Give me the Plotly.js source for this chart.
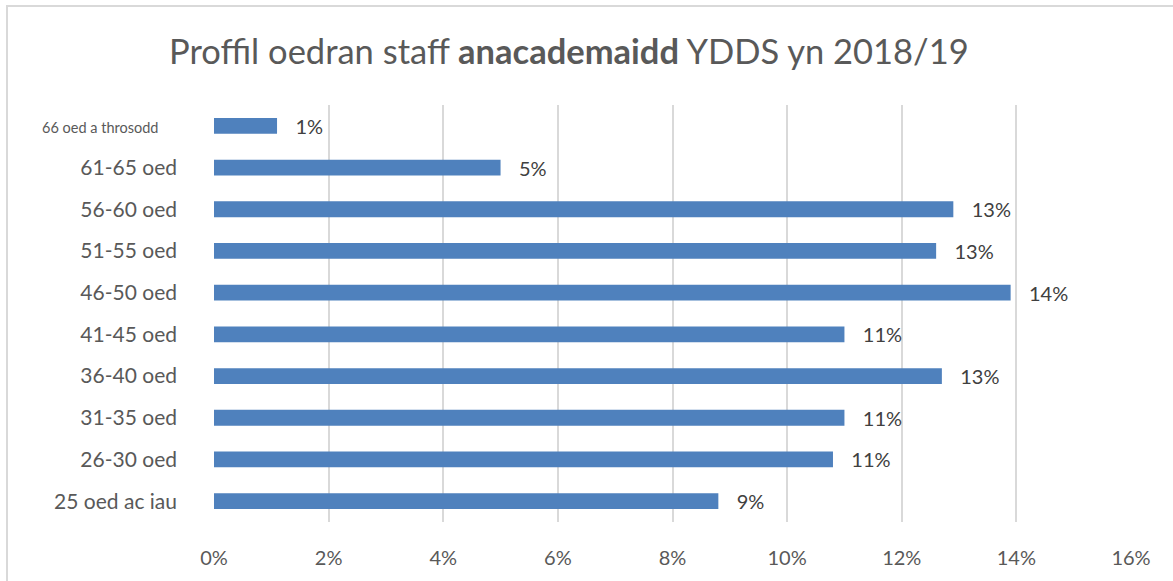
<!DOCTYPE html>
<html>
<head>
<meta charset="utf-8">
<script src="https://cdn.plot.ly/plotly-3.0.1.min.js"></script>
<style>
  html, body { margin: 0; padding: 0; background: #fff; }
  #frame { position: absolute; left: 6px; top: 5px; width: 1200px; height: 600px;
           border-left: 2px solid #d9d9d9; border-top: 2px solid #d9d9d9; pointer-events: none; }
  #chart { width: 1173px; height: 581px; }
</style>
</head>
<body>
<div id="chart"></div>
<div id="frame"></div>
<script>
// Categories bottom -> top
const categories = ["25 oed ac iau", "26-30 oed", "31-35 oed", "36-40 oed", "41-45 oed",
                    "46-50 oed", "51-55 oed", "56-60 oed", "61-65 oed", "66 oed a throsodd"];
// Share of staff (fraction)
const values = [0.088, 0.108, 0.110, 0.127, 0.110, 0.139, 0.126, 0.129, 0.050, 0.011];
const labels = ["9%", "11%", "11%", "13%", "11%", "14%", "13%", "13%", "5%", "1%"];
const tickVals = [0, 0.02, 0.04, 0.06, 0.08, 0.10, 0.12, 0.14, 0.16];
const tickText = ["0%", "2%", "4%", "6%", "8%", "10%", "12%", "14%", "16%"];

const NB = '\u00a0';
const catTicks = categories.map(c => c === "66 oed a throsodd"
  ? '<span style="font-size:14.5px">' + c + NB.repeat(5) + '</span>' : c);

const trace = {
  type: 'bar',
  orientation: 'h',
  x: values,
  y: categories,
  text: labels.map(t => NB.repeat(3) + t),
  textposition: 'outside',
  constraintext: 'none',
  cliponaxis: false,
  textfont: { family: 'Lato, "Open Sans", sans-serif', size: 20, color: '#404040' },
  marker: { color: '#4f81bd' },
  width: 0.38,
  hoverinfo: 'skip'
};

const layout = {
  width: 1173, height: 581,
  margin: { l: 214, r: 42, t: 105, b: 59 },
  paper_bgcolor: '#fff', plot_bgcolor: '#fff',
  font: { family: 'Lato, "Open Sans", sans-serif', color: '#595959' },
  title: {
    text: 'Proffil oedran staff <b>anacademaidd</b> YDDS yn 2018/19',
    font: { size: 34.5, color: '#595959', family: 'Lato, "Open Sans", sans-serif' },
    x: 0.485, xanchor: 'center', y: 0.91, yanchor: 'middle'
  },
  xaxis: {
    range: [0, 0.16],
    tickvals: tickVals, ticktext: tickText,
    showgrid: true, gridcolor: '#d9d9d9', gridwidth: 2,
    zeroline: true, zerolinecolor: '#ffffff', zerolinewidth: 2,
    showline: false, ticks: '',
    ticklabelstandoff: 22,
    tickfont: { size: 20, color: '#595959' },
    fixedrange: true
  },
  yaxis: {
    type: 'category',
    categoryorder: 'array', categoryarray: categories,
    tickvals: categories, ticktext: catTicks,
    showgrid: false, zeroline: false, showline: false, ticks: '',
    ticklabelstandoff: 36,
    tickfont: { size: 21, color: '#595959' },
    fixedrange: true
  },
  showlegend: false
};

Plotly.newPlot('chart', [trace], layout, { displayModeBar: false, staticPlot: true });
</script>
</body>
</html>
